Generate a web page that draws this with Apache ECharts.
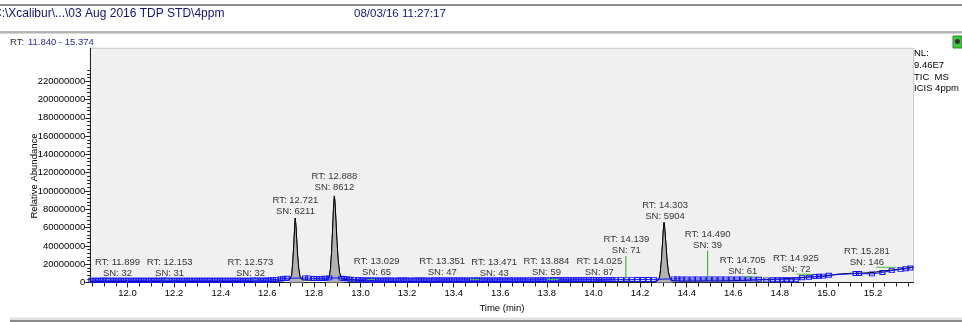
<!DOCTYPE html>
<html>
<head>
<meta charset="utf-8">
<script src="https://cdn.jsdelivr.net/npm/echarts@6/dist/echarts.min.js"></script>
<style>
html,body{margin:0;padding:0;background:#fff;}
#c{width:962px;height:322px;}
</style>
</head>
<body>
<div id="c"></div>
<script>
// ---------- DATA (abundances in millions) ----------
const UNIT = 1e6;
const traceTime = [11.840,11.860,11.880,11.899,11.915,11.940,11.970,12.000,12.030,12.060,12.090,12.120,12.153,12.175,12.210,12.250,12.290,12.330,12.370,12.410,12.450,12.490,12.530,12.573,12.610,12.650,12.680,12.695,
 12.700,12.705,12.710,12.714,12.717,12.720,12.723,12.726,12.730,12.735,12.740,12.746,12.755,12.780,12.810,12.840,12.855,
 12.865,12.871,12.876,12.880,12.884,12.888,12.891,12.895,12.899,12.904,12.910,12.918,12.928,12.950,12.980,13.010,13.029,13.060,13.100,13.150,13.200,13.250,13.300,13.351,13.400,13.440,13.471,13.520,13.580,13.640,13.700,13.760,13.820,13.884,13.940,13.990,14.025,14.070,14.110,14.139,14.180,14.230,14.260,14.270,
 14.280,14.286,14.292,14.297,14.300,14.303,14.306,14.310,14.315,14.321,14.328,14.336,14.345,14.370,14.400,14.450,14.490,14.540,14.600,14.650,14.705,14.750,14.800,14.850,14.900,14.925,14.960,15.000,15.050,15.100,15.150,15.200,15.250,15.281,15.320,15.350,15.374];
const traceAbund = [1.0,1.1,1.0,1.6,1.2,1.0,1.1,0.9,1.0,1.1,0.9,1.0,1.6,1.1,0.9,1.0,1.1,0.9,1.0,1.1,1.0,0.9,1.1,1.6,1.4,1.8,2.2,3.0,
 3.8,8,24,42,58,70.5,62,48,30,15,7,3.8,2.8,2.5,2.4,2.6,3.0,
 5,14,33,55,80,94.6,86,66,45,25,11,5,3.5,3.0,2.5,2.2,2.6,1.8,1.3,1.1,1.0,1.1,1.0,1.5,1.0,1.1,1.5,1.0,1.1,1.0,1.1,1.0,1.2,1.7,1.2,1.1,1.8,1.2,1.1,1.5,1.2,1.1,1.2,1.5,
 3,9,25,45,58,65.5,59,45,27,12,5,2.5,1.8,1.6,1.5,1.6,1.8,1.7,2.0,2.4,2.8,3.4,3.8,4.6,5.6,6.0,6.5,7.2,9.2,10.0,10.2,11.0,12.8,13.6,14.8,15.8,17.0];

// integrated peak ranges (filled grey)
const peakFillStart = [12.695, 12.855, 14.270];
const peakFillEnd   = [12.755, 12.928, 14.345];

// ICIS baseline points
const baseTime = [11.845,11.859,11.873,11.887,11.902,11.916,11.930,11.944,11.958,11.972,11.986,12.001,12.015,12.029,12.043,12.057,12.071,12.086,12.100,12.114,12.128,12.142,12.156,12.170,12.184,12.199,12.213,12.227,12.241,12.255,12.269,12.284,12.298,12.312,12.326,12.340,12.354,12.369,12.383,12.397,12.411,12.425,12.439,12.454,12.468,12.482,12.496,12.510,12.524,12.539,12.553,12.567,12.581,12.595,12.609,12.624,12.638,
 12.656,12.668,12.684,12.762,12.776,12.800,12.812,12.824,12.836,12.850,12.866,12.918,12.930,12.942,12.956,12.972,12.990,13.004,13.018,
 13.032,13.046,13.061,13.075,13.089,13.103,13.117,13.131,13.146,13.160,13.174,13.188,13.202,13.216,13.231,13.245,13.259,13.273,13.287,13.301,13.316,13.330,13.344,13.358,13.372,13.386,13.401,13.415,13.429,13.443,13.457,13.471,13.486,13.500,13.514,13.528,13.542,13.556,13.571,13.585,13.599,13.613,13.627,13.641,13.656,13.670,13.684,13.698,13.712,13.726,13.741,13.755,13.769,13.783,13.797,13.811,13.826,13.840,13.854,13.868,13.882,13.896,13.911,13.925,13.939,13.953,13.967,13.981,13.996,14.010,14.024,14.038,14.052,14.066,14.081,14.095,
 14.118,14.142,14.165,14.188,14.212,14.236,14.259,
 14.344,14.360,14.378,14.400,14.425,14.448,14.472,14.497,14.520,14.545,14.568,14.592,14.616,14.640,14.663,14.687,14.710,14.742,14.770,14.790,14.810,14.828,14.850,14.868,
 14.895,14.925,14.952,14.968,14.985,15.010,15.125,15.140,15.195,15.240,15.280,15.318,15.340,15.360];
const baseAbund = [2.5,2.6,2.5,2.6,2.7,2.6,2.5,2.5,2.6,2.5,2.4,2.5,2.6,2.5,2.4,2.5,2.5,2.6,2.5,2.4,2.5,2.6,2.7,2.6,2.5,2.5,2.4,2.5,2.6,2.5,2.5,2.4,2.5,2.6,2.5,2.5,2.4,2.5,2.6,2.5,2.5,2.6,2.5,2.4,2.5,2.6,2.5,2.5,2.6,2.7,2.6,2.7,2.6,2.7,2.8,3.0,3.2,
 3.8,4.2,4.6,5.0,5.0,4.4,4.4,4.4,4.4,4.6,5.0,4.8,4.3,4.0,3.6,3.4,3.0,3.0,2.8,
 2.8,2.7,2.8,2.7,2.6,2.7,2.8,2.7,2.6,2.7,2.7,2.8,2.7,2.6,2.7,2.8,2.7,2.7,2.6,2.7,2.8,2.7,2.8,2.9,2.8,2.7,2.7,2.8,2.7,2.8,2.9,2.9,2.8,2.7,2.8,2.7,2.8,2.8,2.7,2.8,2.9,2.8,2.7,2.8,2.9,2.8,2.8,2.9,2.8,2.9,2.9,2.8,2.9,3.0,2.9,2.9,3.0,3.1,3.0,3.0,3.1,3.0,3.0,3.1,3.0,3.1,3.1,3.2,3.1,3.1,3.2,3.1,3.1,3.2,3.2,3.1,
 3.2,3.2,3.2,3.3,3.3,3.3,3.4,
 4.0,4.0,3.9,3.8,3.8,3.8,3.8,3.8,3.8,3.8,3.8,3.8,3.8,3.8,3.8,3.7,3.6,2.9,3.0,3.0,3.0,3.0,3.0,3.1,
 5.2,5.8,6.6,6.8,7.0,8.0,9.8,9.8,9.4,11.0,13.0,14.4,15.0,15.8];

// peak annotations
const peakRT = ['11.899','12.153','12.573','12.721','12.888','13.029','13.351','13.471','13.884','14.025','14.139','14.303','14.490','14.705','14.925','15.281'];
const peakSN = ['32','31','32','6211','8612','65','47','43','59','87','71','5904','39','61','72','146'];
const labelLevel = [4.2,4.2,4.2,71.4,98.1,5.1,4.7,4.0,5.1,5.1,28.8,66.7,34.7,6.2,8.4,16.4];

// green peak markers (raised-label stems and apex segments)
const stemRT = [14.139, 14.490];
const stemTop = [28.8, 34.7];
const stemBottom = [4.0, 3.5];
const apexSegStart = [11.912, 12.160, 12.540, 13.030, 13.470, 13.800, 14.642, 14.873, 15.213];
const apexSegEnd   = [11.925, 12.175, 12.555, 13.060, 13.510, 13.850, 14.685, 14.942, 15.300];
const apexSegLevel = [3.0, 3.0, 3.0, 3.2, 3.2, 3.3, 6.3, 9.0, 16.6];

// axes
const xTickLabels = [12.0,12.2,12.4,12.6,12.8,13.0,13.2,13.4,13.6,13.8,14.0,14.2,14.4,14.6,14.8,15.0,15.2];
const yTickLabels = [0,20,40,60,80,100,120,140,160,180,200,220];
const X_MIN = 11.840, X_MAX = 15.374;
const Y_MAX = 256;

// ---------- BUILD ----------
const FONT = 'Liberation Sans, Arial, sans-serif';
const tracePts = traceTime.map((t,i)=>[t, traceAbund[i]*UNIT]);
const basePts = baseTime.map((t,i)=>[t, baseAbund[i]*UNIT]);

const xMinor = []; for (let k = 0; k < 71; k++) { const v = +(11.85 + k*0.05).toFixed(2); if (v <= X_MAX) xMinor.push(v); }
const yMinor = []; for (let k = 0; k <= 58; k++) yMinor.push(k*4*UNIT);

// label pixel nudges (layout only)
const labelDx = [13.5,6.5,-10.5,0,0,9.4,0,24,-20,0,0.5,1,0,-15,-13,-25];

const series = [];
series.push({
  type:'line', data: tracePts, symbol:'none', z:2, animation:false,
  lineStyle:{color:'#000', width:1}, silent:true
});
peakFillStart.forEach((a,k)=>{
  const b = peakFillEnd[k];
  series.push({
    type:'line', data: tracePts.filter(p=>p[0]>=a && p[0]<=b), symbol:'none', z:3, animation:false,
    lineStyle:{color:'#000', width:1}, areaStyle:{color:'#b2b2b2', opacity:1}, silent:true
  });
});
series.push({
  type:'line', data: basePts, symbol:'rect', symbolSize:[5,4], showAllSymbol:true, z:4, animation:false,
  itemStyle:{color:'rgba(0,0,0,0)', borderColor:'#1010ff', borderWidth:1},
  lineStyle:{color:'#1010ff', width:1}, silent:true
});
stemRT.forEach((t,k)=>{
  series.push({type:'line', data:[[t, stemTop[k]*UNIT],[t, stemBottom[k]*UNIT]], symbol:'none', z:5, animation:false,
    lineStyle:{color:'#20b020', width:1}, silent:true});
});
apexSegStart.forEach((a,k)=>{
  series.push({type:'line', data:[[a, apexSegLevel[k]*UNIT],[apexSegEnd[k], apexSegLevel[k]*UNIT]], symbol:'none', z:5, animation:false,
    lineStyle:{color:'#40c040', width:1}, silent:true});
});
series.push({
  type:'scatter', symbolSize:0, z:10, animation:false, silent:true,
  data: peakRT.map((rt,i)=>({
    value:[parseFloat(rt), labelLevel[i]*UNIT],
    label:{offset:[labelDx[i],0]}
  })),
  label:{
    show:true, position:'top', distance:0, color:'#000',
    fontFamily:FONT, fontSize:9.5, lineHeight:11, align:'center',
    formatter:(p)=>'RT: '+peakRT[p.dataIndex]+'\nSN: '+peakSN[p.dataIndex]
  }
});

const axisFont = {fontFamily:FONT, fontSize:9.5, color:'#000'};
const option = {
  animation:false,
  backgroundColor:'#ffffff',
  grid:{left:90.2, right:48.4, top:48.3, bottom:39.5, show:true, backgroundColor:'#f0f0f0', borderColor:'#c8c8c8', borderWidth:1},
  xAxis:[{
    type:'value', min:X_MIN, max:X_MAX, position:'bottom',
    name:'Time (min)', nameLocation:'middle', nameGap:19, nameTextStyle:axisFont,
    axisLine:{show:true, onZero:false, lineStyle:{color:'#222', width:1}},
    axisTick:{show:true, length:5, customValues:xTickLabels, lineStyle:{color:'#222'}},
    axisLabel:Object.assign({customValues:xTickLabels, margin:6, formatter:(v)=>v.toFixed(1)}, axisFont),
    splitLine:{show:false}
  },{
    type:'value', min:X_MIN, max:X_MAX, position:'bottom',
    axisLine:{show:false},
    axisTick:{show:true, length:4, customValues:xMinor, lineStyle:{color:'#222'}},
    axisLabel:{show:false}, splitLine:{show:false}
  }],
  yAxis:[{
    type:'value', min:0, max:Y_MAX*UNIT, position:'left',
    axisLine:{show:true, onZero:false, lineStyle:{color:'#222', width:1}},
    axisTick:{show:true, length:5, customValues:yTickLabels.map(v=>v*UNIT), lineStyle:{color:'#222'}},
    axisLabel:Object.assign({customValues:yTickLabels.map(v=>v*UNIT), margin:5, formatter:(v)=>String(Math.round(v))}, axisFont),
    splitLine:{show:false}
  },{
    type:'value', min:0, max:Y_MAX*UNIT, position:'left',
    axisLine:{show:false},
    axisTick:{show:true, length:3, customValues:yMinor.filter(v=>v<=232*UNIT), lineStyle:{color:'#222'}},
    axisLabel:{show:false}, splitLine:{show:false}
  }],
  series: series,
  graphic:[
    {type:'rect', shape:{x:0, y:4, width:962, height:2}, style:{fill:'#8c8c8c'}, silent:true},
    {type:'text', x:-7, y:13.5, style:{text:'C:\\Xcalibur\\...\\03 Aug 2016 TDP STD\\4ppm', font:'12px '+FONT, fill:'#12127a', verticalAlign:'middle'}},
    {type:'text', x:354, y:13.5, style:{text:'08/03/16 11:27:17', font:'11.5px '+FONT, fill:'#12127a', verticalAlign:'middle'}},
    {type:'rect', shape:{x:0, y:31.5, width:962, height:1}, style:{fill:'#707070'}, silent:true},
    {type:'rect', shape:{x:0, y:32.5, width:962, height:1}, style:{fill:'#b0b0b0'}, silent:true},
    {type:'text', x:10, y:42.7, style:{text:'RT:', font:'9.5px '+FONT, fill:'#333', verticalAlign:'middle'}},
    {type:'text', x:28, y:42.7, style:{text:'11.840 - 15.374', font:'9.5px '+FONT, fill:'#2a2aa8', verticalAlign:'middle'}},
    {type:'rect', shape:{x:953, y:36, width:9, height:12}, style:{fill:'#3cc83c', stroke:'#2a8a2a', lineWidth:1}, silent:true},
    {type:'circle', shape:{cx:957.5, cy:41.5, r:2.5}, style:{fill:'#333'}, silent:true},
    {type:'text', x:914, y:53.5, style:{text:'NL:', font:'9.5px '+FONT, fill:'#000', verticalAlign:'middle'}},
    {type:'text', x:914, y:65, style:{text:'9.46E7', font:'9.5px '+FONT, fill:'#000', verticalAlign:'middle'}},
    {type:'text', x:914, y:77, style:{text:'TIC  MS', font:'9.5px '+FONT, fill:'#000', verticalAlign:'middle'}},
    {type:'text', x:914, y:88.5, style:{text:'ICIS 4ppm', font:'9.5px '+FONT, fill:'#000', verticalAlign:'middle'}},
    {type:'text', x:34, y:176, rotation:Math.PI/2, style:{text:'Relative Abundance', font:'9.5px '+FONT, fill:'#000', align:'center', verticalAlign:'middle'}},
    {type:'rect', shape:{x:10, y:317.5, width:952, height:2.5}, style:{fill:'#e2e2e2'}, silent:true},
    {type:'rect', shape:{x:10, y:320, width:952, height:2}, style:{fill:'#8a8a8a'}, silent:true}
  ]
};
const chart = echarts.init(document.getElementById('c'), null, {renderer:'canvas'});
chart.setOption(option);
</script>
</body>
</html>
